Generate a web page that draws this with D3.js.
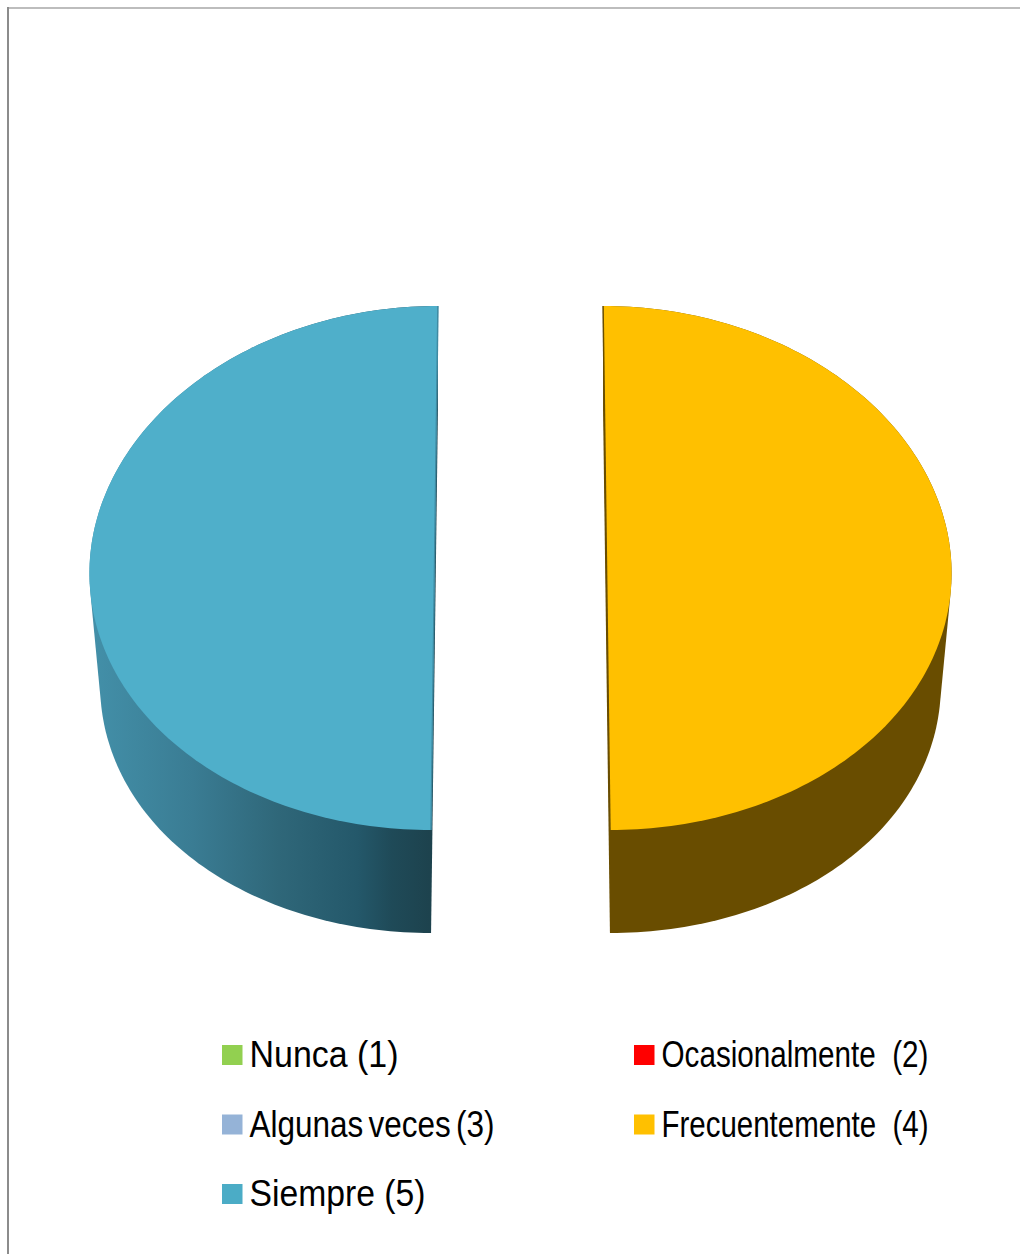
<!DOCTYPE html>
<html>
<head>
<meta charset="utf-8">
<script src="https://cdn.jsdelivr.net/npm/d3@7/dist/d3.min.js"></script>
<style>
html,body{margin:0;padding:0;background:#fff;}
svg{display:block;}
text{font-family:"Liberation Sans",Arial,sans-serif;font-size:36.5px;fill:#000;white-space:pre;}
</style>
</head>
<body>
<div id="chart"></div>
<script>
// Survey answers: only the last two categories received responses
const categories = ["Nunca (1)", "Ocasionalmente  (2)", "Algunas veces (3)", "Frecuentemente  (4)", "Siempre (5)"];
const values = [0, 0, 0, 50, 50];
const colors = ["#92d050", "#ff0000", "#95b3d7", "#ffc000", "#4bacc6"];
const wallColors = ["#5f8330", "#990000", "#5a6c81", "#694d00", "#3f8aa2"];

// Legend label widths and word gaps, set to the narrow face used in the key
const labelWidths = [149, 267, 245, 267, 176];
const labelWordGaps = [0, 0, -4, 0, 0];

const width = 1020, height = 1254;
const svg = d3.select("#chart").append("svg").attr("width", width).attr("height", height);

// Frame along the top and left of the chart area
svg.append("line").attr("x1", 7).attr("x2", width).attr("y1", 8).attr("y2", 8)
  .attr("stroke", "#bdbdbd").attr("stroke-width", 2);
svg.append("line").attr("x1", 8).attr("x2", 8).attr("y1", 7).attr("y2", height)
  .attr("stroke", "#8c8c8c").attr("stroke-width", 2);

// Shading of the curved wall on the left slice, darkening toward the cut
const defs = svg.append("defs");
const wallGrad = defs.append("linearGradient").attr("id", "wall-left")
  .attr("gradientUnits", "userSpaceOnUse").attr("x1", 90).attr("x2", 433).attr("y1", 0).attr("y2", 0);
[[0, "#4390a9"], [0.3, "#3a7c93"], [0.55, "#2f6779"], [0.78, "#24586a"], [0.88, "#1f4a58"], [1, "#1d424d"]]
  .forEach(([o, c]) => wallGrad.append("stop").attr("offset", o).attr("stop-color", c));

// Projection of the tilted, exploded disc
const centerX = 520.5, explode = 86, depthGain = 0.04;
const topFace = { r: 345, radiusGain: 0.01, y: d3.scaleLinear().domain([-1, 1]).range([306, 830]) };
const baseFace = { r: 334, radiusGain: 0.04, y: d3.scaleLinear().domain([-1, 1]).range([409, 933]) };

function project(face, angle, side) {
  const u = Math.sin(angle), v = -Math.cos(angle);
  const x = centerX + side * explode * (1 + depthGain * v) + face.r * u * (1 + face.radiusGain * v);
  return [x, face.y(v)];
}

const pie = d3.pie().sort(null).value(d => d)(values);
const line = d3.line();

function arcPoints(face, s, side) {
  const n = 160;
  return d3.range(n + 1).map(i => project(face, s.startAngle + (s.endAngle - s.startAngle) * i / n, side));
}

const slices = pie.map((s, i) => ({ ...s, i })).filter(s => s.value > 0);

slices.forEach(s => {
  const side = Math.sin((s.startAngle + s.endAngle) / 2) >= 0 ? 1 : -1;
  const top = arcPoints(topFace, s, side);
  const base = arcPoints(baseFace, s, side);
  const wall = side < 0 ? "url(#wall-left)" : wallColors[s.i];

  // Wall silhouette: hull of the top and base arcs, with straight tangent sides
  svg.append("path")
    .attr("d", line(d3.polygonHull(top.concat(base))) + "Z")
    .attr("fill", wall);

  // Top surface
  svg.append("path")
    .attr("d", line(top) + "Z")
    .attr("fill", side < 0 ? "#4fafca" : colors[s.i]);

  // Thin sliver of the cut face showing along the straight edge
  svg.append("line")
    .attr("x1", top[0][0]).attr("y1", top[0][1])
    .attr("x2", top[top.length - 1][0]).attr("y2", top[top.length - 1][1])
    .attr("stroke", side < 0 ? "#3f8aa2" : wallColors[s.i])
    .attr("stroke-width", 1.5);
});

// Legend: two columns, filled row by row
const legendX = d3.scaleOrdinal().domain([0, 1]).range([222, 634]);
const legendY = d3.scalePoint().domain([0, 1, 2]).range([1045, 1184]);
const legend = svg.append("g");
categories.forEach((name, i) => {
  const col = i % 2, row = Math.floor(i / 2);
  legend.append("rect")
    .attr("x", legendX(col)).attr("y", legendY(row))
    .attr("width", 20.5).attr("height", 20)
    .attr("fill", colors[i]);
  legend.append("text")
    .attr("x", legendX(col) + 27.5).attr("y", legendY(row) + 22)
    .attr("textLength", labelWidths[i]).attr("lengthAdjust", "spacingAndGlyphs")
    .style("word-spacing", labelWordGaps[i] + "px")
    .text(name);
});
</script>
</body>
</html>
